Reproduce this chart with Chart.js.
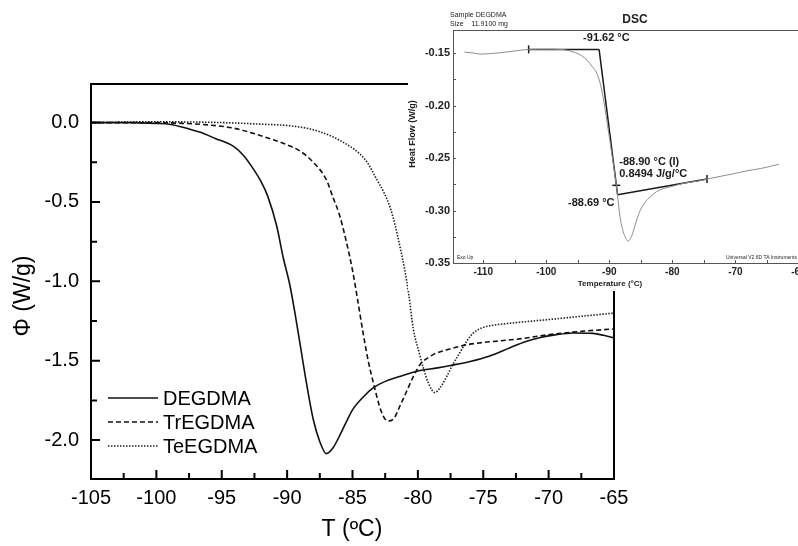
<!DOCTYPE html>
<html>
<head>
<meta charset="utf-8">
<script src="https://cdn.jsdelivr.net/npm/chart.js@4.4.0/dist/chart.umd.min.js"></script>
<style>
  html, body { margin: 0; padding: 0; background: #fff; overflow: hidden; }
  #wrap { position: relative; width: 798px; height: 546px; overflow: hidden; }
  #main { position: absolute; left: 0; top: 0; }
  #inset { position: absolute; left: 408px; top: 0; background: #fff; }
</style>
</head>
<body>
<div id="wrap">
  <canvas id="main" width="798" height="546"></canvas>
  <canvas id="inset" width="420" height="291"></canvas>
</div>
<script>
// heat flow curves, T in degC, phi in W/g
const degdmaT = [-105, -102, -100, -99, -97.5, -96.7, -95.5, -94.1, -93.3, -92.6, -92.0, -91.5, -90.8, -90.3, -89.8, -89.4, -89.0, -88.5, -88.0, -87.5, -87.0, -86.5, -86.0, -85.5, -85.0, -84.2, -83.4, -82.5, -81.4, -80.0, -78.5, -77.5, -76.0, -74.5, -73.0, -71.8, -70.7, -69.5, -68.1, -66.6, -65.8, -65.0];
const degdmaPhi = [0.0, 0.0, -0.005, -0.01, -0.04, -0.06, -0.10, -0.15, -0.21, -0.29, -0.37, -0.46, -0.65, -0.85, -1.02, -1.20, -1.40, -1.65, -1.87, -2.01, -2.085, -2.05, -1.975, -1.89, -1.81, -1.73, -1.67, -1.63, -1.60, -1.565, -1.545, -1.53, -1.505, -1.47, -1.42, -1.38, -1.355, -1.337, -1.325, -1.328, -1.34, -1.356];

const tregdmaT = [-105, -100, -98, -96, -94.1, -92.5, -91.0, -90.0, -89.0, -88.0, -87.0, -86.5, -86.0, -85.5, -85.0, -84.6, -84.2, -83.8, -83.4, -82.8, -82.3, -81.8, -81.4, -80.9, -80.35, -79.8, -79.2, -78.8, -77.5, -76.3, -75.0, -73.7, -72.0, -69.9, -67.5, -65.0];
const tregdmaPhi = [0.0, 0.0, -0.005, -0.015, -0.035, -0.07, -0.11, -0.14, -0.18, -0.25, -0.36, -0.47, -0.58, -0.74, -0.93, -1.12, -1.32, -1.50, -1.64, -1.82, -1.88, -1.86, -1.79, -1.70, -1.60, -1.52, -1.48, -1.46, -1.425, -1.40, -1.385, -1.375, -1.36, -1.335, -1.315, -1.30];

const teegdmaT = [-105, -100, -95, -92, -89.8, -88.0, -86.5, -85.2, -84.4, -83.8, -83.2, -82.6, -82.1, -81.7, -81.4, -81.0, -80.7, -80.35, -79.9, -79.6, -79.2, -78.7, -78.3, -77.8, -77.3, -76.8, -76.2, -75.75, -75.0, -74.5, -72.5, -69.9, -67.5, -65.0];
const teegdmaPhi = [0.0, 0.005, 0.0, -0.01, -0.02, -0.045, -0.09, -0.15, -0.20, -0.26, -0.35, -0.44, -0.54, -0.66, -0.77, -0.93, -1.08, -1.30, -1.45, -1.54, -1.64, -1.70, -1.67, -1.60, -1.52, -1.45, -1.37, -1.325, -1.29, -1.28, -1.26, -1.24, -1.22, -1.20];

const mainXTicks = [-105, -100, -95, -90, -85, -80, -75, -70, -65];
const mainYTicks = [-2.0, -1.5, -1.0, -0.5, 0.0];

// DSC trace of DEGDMA (instrument export)
const insetT = [-113.0, -111.5, -110.5, -109, -107.3, -105, -102.8, -100, -97.8, -96.5, -95.7, -94.5, -93.5, -92.7, -92.0, -91.4, -90.9, -90.5, -90.1, -89.7, -89.3, -88.8, -88.3, -87.8, -87.5, -87.0, -86.5, -86.1, -85.6, -85.1, -84.3, -83.5, -82.5, -81.4, -80, -78.2, -76, -74.5, -72, -70.3, -68, -66.0, -63.1];
const insetHF = [-0.149, -0.150, -0.151, -0.1505, -0.1497, -0.148, -0.1465, -0.1463, -0.1465, -0.1475, -0.149, -0.152, -0.157, -0.163, -0.169, -0.180, -0.195, -0.210, -0.226, -0.242, -0.258, -0.280, -0.306, -0.320, -0.325, -0.329, -0.325, -0.318, -0.308, -0.300, -0.292, -0.287, -0.282, -0.279, -0.277, -0.274, -0.272, -0.270, -0.267, -0.265, -0.262, -0.260, -0.256];
const insetXTicks = [-110, -100, -90, -80, -70, -60];
const insetYTicks = [-0.35, -0.30, -0.25, -0.20, -0.15];

// glass transition construction lines
const onsetT = [-102.8, -91.62];
const onsetHF = [-0.1465, -0.1465];
const slopeT = [-91.62, -88.69];
const slopeHF = [-0.1465, -0.285];
const tangentT = [-88.69, -74.5];
const tangentHF = [-0.285, -0.270];
const inflectT = [-88.90];
const inflectHF = [-0.276];
const deltaCp = 0.8494;

const FONT = '"Liberation Sans", Arial, sans-serif';
const pts = (xs, ys) => xs.map((x, i) => ({ x: x, y: ys[i] }));

const mainFrame = {
  id: 'mainFrame',
  afterDraw(chart) {
    const ctx = chart.ctx;
    const { left, right, top, bottom } = chart.chartArea;
    const x = chart.scales.x, y = chart.scales.y;
    ctx.save();
    ctx.strokeStyle = '#000';
    ctx.lineWidth = 2;
    ctx.beginPath();
    ctx.moveTo(left, top);
    ctx.lineTo(right, top);
    ctx.lineTo(right, bottom);
    ctx.stroke();

    // inward ticks, minor between the labelled ones
    ctx.beginPath();
    for (let i = 0; i <= 16; i++) {
      const px = x.getPixelForValue(-105 + 2.5 * i);
      ctx.moveTo(px, bottom);
      ctx.lineTo(px, bottom - (i % 2 === 0 ? 9 : 6));
    }
    for (let i = 0; i <= 8; i++) {
      const py = y.getPixelForValue(-2.0 + 0.25 * i);
      ctx.moveTo(left, py);
      ctx.lineTo(left + (i % 2 === 0 ? 9 : 6), py);
    }
    ctx.stroke();

    // axis titles
    ctx.fillStyle = '#000';
    ctx.textAlign = 'center';
    ctx.textBaseline = 'middle';
    ctx.font = '23px ' + FONT;
    ctx.fillText('T (ºC)', 352, 530);
    ctx.save();
    ctx.translate(24, 296);
    ctx.rotate(-Math.PI / 2);
    ctx.fillText('Φ (W/g)', 0, 0);
    ctx.restore();

    // legend
    ctx.font = '20px ' + FONT;
    ctx.textAlign = 'left';
    chart.data.datasets.forEach((ds, i) => {
      const ly = 398 + 24 * i;
      ctx.save();
      ctx.lineWidth = 1.6;
      ctx.strokeStyle = ds.borderColor;
      ctx.setLineDash(ds.borderDash || []);
      ctx.beginPath();
      ctx.moveTo(108, ly);
      ctx.lineTo(158, ly);
      ctx.stroke();
      ctx.restore();
      ctx.fillText(ds.label, 163, ly + 1);
    });
    ctx.restore();
  }
};

new Chart(document.getElementById('main'), {
  type: 'scatter',
  data: {
    datasets: [
      { label: 'DEGDMA', data: pts(degdmaT, degdmaPhi), showLine: true, borderColor: '#111', borderWidth: 1.6, pointRadius: 0, cubicInterpolationMode: 'monotone' },
      { label: 'TrEGDMA', data: pts(tregdmaT, tregdmaPhi), showLine: true, borderColor: '#111', borderWidth: 1.6, borderDash: [5, 3], pointRadius: 0, cubicInterpolationMode: 'monotone' },
      { label: 'TeEGDMA', data: pts(teegdmaT, teegdmaPhi), showLine: true, borderColor: '#222', borderWidth: 1.6, borderDash: [1.5, 1.5], pointRadius: 0, cubicInterpolationMode: 'monotone' }
    ]
  },
  options: {
    responsive: false,
    animation: false,
    layout: { padding: { left: 0, right: 184, top: 84, bottom: 0 }, autoPadding: false },
    plugins: { legend: { display: false }, tooltip: { enabled: false } },
    scales: {
      x: {
        type: 'linear', min: -105, max: -65,
        afterFit: s => { s.height = 67; },
        afterBuildTicks: s => { s.ticks = mainXTicks.map(v => ({ value: v })); },
        grid: { display: false, drawTicks: false, tickLength: 0 },
        border: { color: '#000', width: 2 },
        ticks: { color: '#000', padding: 7, font: { family: FONT, size: 20 }, maxRotation: 0, callback: v => String(v) }
      },
      y: {
        type: 'linear', min: -2.245, max: 0.243,
        afterFit: s => { s.width = 91; },
        afterBuildTicks: s => { s.ticks = mainYTicks.map(v => ({ value: v })); },
        grid: { display: false, drawTicks: false, tickLength: 0 },
        border: { color: '#000', width: 2 },
        ticks: { color: '#000', padding: 12, font: { family: FONT, size: 20 }, callback: v => v.toFixed(1) }
      }
    }
  },
  plugins: [mainFrame]
});

const insetDecor = {
  id: 'insetDecor',
  afterDraw(chart) {
    const ctx = chart.ctx;
    const { left, right, top, bottom } = chart.chartArea;
    const x = chart.scales.x, y = chart.scales.y;
    ctx.save();
    ctx.strokeStyle = '#555';
    ctx.lineWidth = 1;
    ctx.beginPath();
    ctx.moveTo(left, top + 0.5);
    ctx.lineTo(right, top + 0.5);
    ctx.stroke();

    ctx.beginPath();
    for (let v = -110; v <= -60; v += 5) {
      const px = Math.round(x.getPixelForValue(v)) + 0.5;
      ctx.moveTo(px, bottom);
      ctx.lineTo(px, bottom - 3);
    }
    for (let i = 0; i <= 8; i++) {
      const py = Math.round(y.getPixelForValue(-0.35 + 0.025 * i)) + 0.5;
      ctx.moveTo(left, py);
      ctx.lineTo(left + 3, py);
    }
    ctx.stroke();

    ctx.fillStyle = '#222';
    ctx.textBaseline = 'middle';
    ctx.textAlign = 'left';
    ctx.font = '7px ' + FONT;
    ctx.fillText('Sample DEGDMA', 42, 15);
    ctx.fillText('Size    11.9100 mg', 42, 24);
    ctx.font = '5px ' + FONT;
    ctx.fillText('Exo Up', left + 4, bottom - 5);
    ctx.textAlign = 'right';
    ctx.fillText('Universal V2.6D TA Instruments', 389, bottom - 5);

    ctx.textAlign = 'center';
    ctx.font = 'bold 12px ' + FONT;
    ctx.fillText('DSC', 227, 20);
    ctx.font = 'bold 8px ' + FONT;
    ctx.fillText('Temperature (°C)', 202, 284);
    ctx.save();
    ctx.translate(5, 134);
    ctx.rotate(-Math.PI / 2);
    ctx.font = 'bold 9px ' + FONT;
    ctx.fillText('Heat Flow (W/g)', 0, 0);
    ctx.restore();

    // construction labels next to their anchor points
    ctx.font = 'bold 11px ' + FONT;
    ctx.fillStyle = '#1a1a1a';
    const ox = x.getPixelForValue(onsetT[1]), oy = y.getPixelForValue(onsetHF[1]);
    ctx.textAlign = 'left';
    ctx.fillText(onsetT[1].toFixed(2) + ' °C', ox - 16, oy - 11);
    const ix = x.getPixelForValue(inflectT[0]), iy = y.getPixelForValue(inflectHF[0]);
    ctx.fillText(inflectT[0].toFixed(2) + ' °C (I)', ix + 3, iy - 23);
    ctx.fillText(deltaCp.toFixed(4) + ' J/g/°C', ix + 3, iy - 11);
    const ex = x.getPixelForValue(tangentT[0]), ey = y.getPixelForValue(tangentHF[0]);
    ctx.textAlign = 'right';
    ctx.fillText(tangentT[0].toFixed(2) + ' °C', ex - 3, ey + 8);
    ctx.restore();
  }
};

const constructLine = { showLine: true, borderColor: '#1a1a1a', borderWidth: 1.5, pointStyle: 'line', pointBorderColor: '#1a1a1a', pointBorderWidth: 1.5, rotation: 90 };

new Chart(document.getElementById('inset'), {
  type: 'scatter',
  data: {
    datasets: [
      { data: pts(insetT, insetHF), showLine: true, borderColor: '#8c8c8c', borderWidth: 1, pointRadius: 0, cubicInterpolationMode: 'monotone' },
      Object.assign({ data: pts(onsetT, onsetHF), pointRadius: [4, 0] }, constructLine),
      Object.assign({ data: pts(slopeT, slopeHF), pointRadius: 0 }, constructLine),
      Object.assign({ data: pts(tangentT, tangentHF), pointRadius: [0, 4] }, constructLine),
      Object.assign({ data: pts(inflectT, inflectHF), pointRadius: 4 }, constructLine, { rotation: 0 })
    ]
  },
  options: {
    responsive: false,
    animation: false,
    layout: { padding: { left: 0, right: 17, top: 30, bottom: 0 }, autoPadding: false },
    plugins: { legend: { display: false }, tooltip: { enabled: false } },
    scales: {
      x: {
        type: 'linear', min: -114.8, max: -58,
        afterFit: s => { s.height = 28; },
        afterBuildTicks: s => { s.ticks = insetXTicks.map(v => ({ value: v })); },
        grid: { display: false, drawTicks: false, tickLength: 0 },
        border: { color: '#555', width: 1 },
        ticks: { color: '#222', padding: 3, font: { family: FONT, size: 10, weight: 'bold' }, maxRotation: 0, callback: v => String(v) }
      },
      y: {
        type: 'linear', min: -0.35, max: -0.128,
        afterFit: s => { s.width = 45; },
        afterBuildTicks: s => { s.ticks = insetYTicks.map(v => ({ value: v })); },
        grid: { display: false, drawTicks: false, tickLength: 0 },
        border: { color: '#555', width: 1 },
        ticks: { color: '#222', padding: 3, font: { family: FONT, size: 11, weight: 'bold' }, callback: v => v.toFixed(2) }
      }
    }
  },
  plugins: [insetDecor]
});
</script>
</body>
</html>
